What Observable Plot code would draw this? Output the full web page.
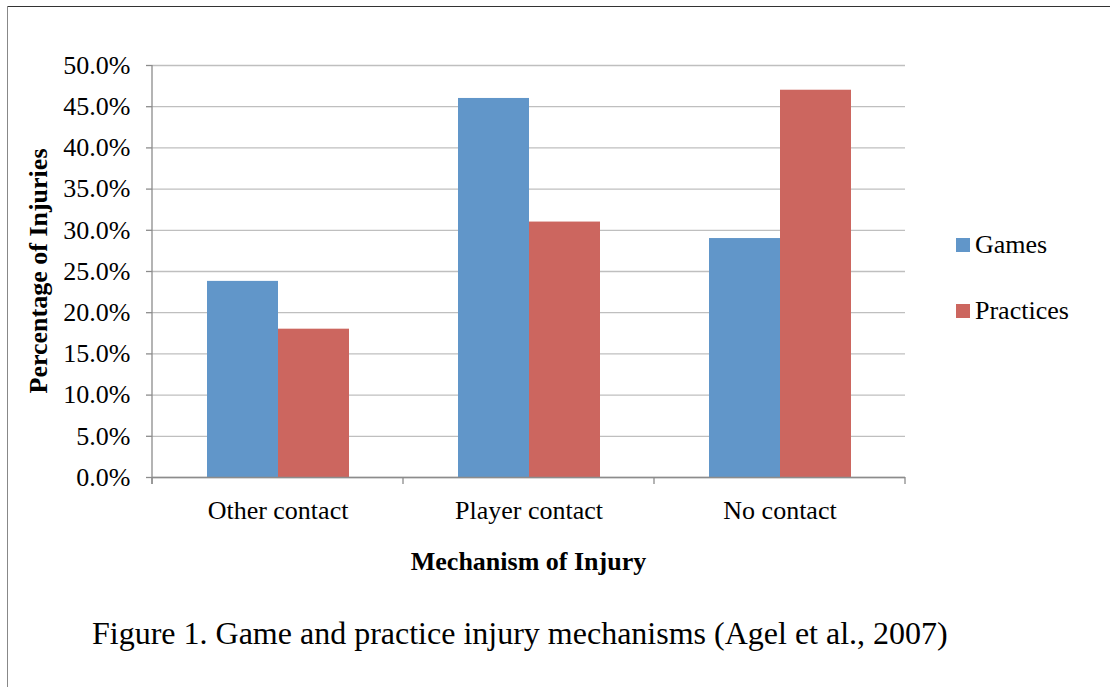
<!DOCTYPE html>
<html>
<head>
<meta charset="utf-8">
<script src="https://cdn.jsdelivr.net/npm/d3@7"></script>
<script src="https://cdn.jsdelivr.net/npm/@observablehq/plot@0.6"></script>
<style>
  html, body { margin: 0; padding: 0; background: #fff; }
  #wrap { position: relative; width: 1110px; height: 687px; overflow: hidden; background: #fff;
          font-family: "Liberation Serif", "Times New Roman", serif; color: #000; }
  #frameTop { position: absolute; left: 8px; top: 6px; width: 1102px; height: 0; border-top: 1.5px solid #333; }
  #frameLeft { position: absolute; left: 7px; top: 6px; width: 0; height: 681px; border-left: 1.5px solid #888; }
  #chart { position: absolute; left: 0; top: 0; }
  #legend { position: absolute; left: 956px; top: 232px; font-size: 26px; line-height: 26px; }
  .li { display: flex; align-items: center; height: 26px; margin-bottom: 40px; }
  .sw { width: 14px; height: 14px; margin-right: 5px; }
  #caption { position: absolute; left: 92px; top: 617px; font-size: 32px; line-height: 32px; white-space: nowrap; }
  svg g[aria-label="y-axis label"] text, svg g[aria-label="fx-axis label"] text { font-weight: bold; }
</style>
</head>
<body>
<div id="wrap">
  <div id="frameTop"></div>
  <div id="frameLeft"></div>
  <div id="chart"></div>
  <div id="legend"></div>
  <div id="caption">Figure 1. Game and practice injury mechanisms (Agel et al., 2007)</div>
</div>
<script>
const categories = ["Other contact", "Player contact", "No contact"];
const seriesNames = ["Games", "Practices"];
const games = [23.8, 46.0, 29.0];
const practices = [18.0, 31.0, 47.0];
const yTicks = [0, 5, 10, 15, 20, 25, 30, 35, 40, 45, 50];
const colors = ["#6196c9", "#cc665f"];

const data = [];
categories.forEach((c, i) => {
  data.push({category: c, series: seriesNames[0], value: games[i]});
  data.push({category: c, series: seriesNames[1], value: practices[i]});
});

const font = '"Liberation Serif", "Times New Roman", serif';
const plot = Plot.plot({
  width: 920,
  height: 590,
  marginLeft: 152,
  marginRight: 15,
  marginTop: 65,
  marginBottom: 113,
  style: {fontFamily: font, fontSize: "26px", color: "#000", background: "transparent", overflow: "visible"},
  fx: {domain: categories, padding: 0},
  x: {domain: seriesNames, paddingInner: 0, paddingOuter: 0.75, axis: null},
  y: {domain: [0, 50]},
  color: {domain: seriesNames, range: colors},
  marks: [
    Plot.gridY(yTicks, {stroke: "#bfbfbf", strokeOpacity: 1, strokeWidth: 1.3}),
    Plot.barY(data, {fx: "category", x: "series", y: "value", fill: "series"}),
    Plot.ruleY([0], {stroke: "#8c8c8c", strokeWidth: 1.3}),
    Plot.axisY(yTicks, {tickSize: 6, tickPadding: 16, stroke: "#8c8c8c", strokeWidth: 1.3,
      tickFormat: d => d.toFixed(1) + "%", label: null}),
    Plot.axisFx({anchor: "bottom", tickSize: 0, tickPadding: 23, label: null})
  ]
});

// axis line and category boundary ticks from the library's scales
const fxs = plot.scale("fx");
const ys = plot.scale("y");
const y0 = ys.apply(0), y50 = ys.apply(50);
const edges = categories.map(c => fxs.apply(c));
edges.push(fxs.apply(categories[categories.length - 1]) + fxs.bandwidth);
const svg = d3.select(plot);
const g = svg.append("g").attr("stroke", "#8c8c8c").attr("stroke-width", 1.3);
g.append("line").attr("x1", edges[0]).attr("x2", edges[0]).attr("y1", y50).attr("y2", y0 + 7);
edges.forEach(x => g.append("line").attr("x1", x).attr("x2", x).attr("y1", y0).attr("y2", y0 + 7));

// axis titles, centred on the scales' ranges
const yMid = (y0 + y50) / 2;
const xMid = (edges[0] + edges[edges.length - 1]) / 2;
svg.append("text")
  .attr("transform", `translate(38,${yMid}) rotate(-90)`)
  .attr("text-anchor", "middle").attr("dy", "0.35em")
  .attr("font-weight", "bold").attr("fill", "#000")
  .text("Percentage of Injuries");
svg.append("text")
  .attr("x", xMid).attr("y", y0 + 84).attr("dy", "0.35em")
  .attr("text-anchor", "middle")
  .attr("font-weight", "bold").attr("fill", "#000")
  .text("Mechanism of Injury");

document.getElementById("chart").appendChild(plot);

const legend = document.getElementById("legend");
seriesNames.forEach((s, i) => {
  const row = document.createElement("div");
  row.className = "li";
  const sw = document.createElement("div");
  sw.className = "sw";
  sw.style.background = colors[i];
  const t = document.createElement("span");
  t.textContent = s;
  row.appendChild(sw);
  row.appendChild(t);
  legend.appendChild(row);
});
</script>
</body>
</html>
